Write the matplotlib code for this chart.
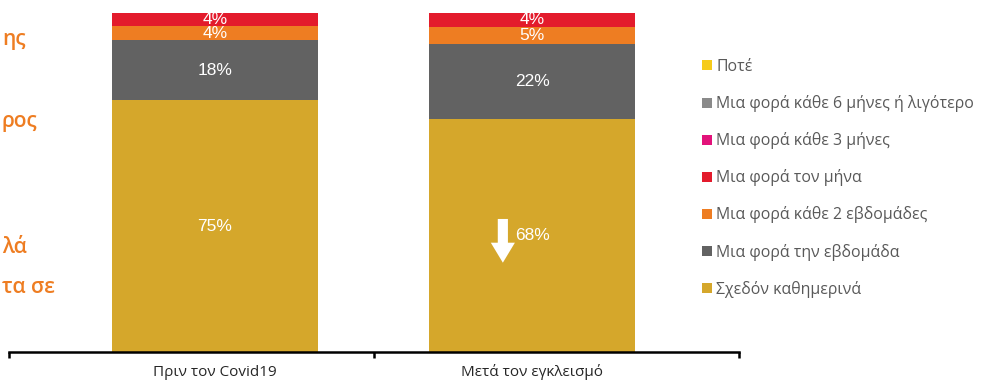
import numpy as np
import matplotlib.pyplot as plt
from matplotlib.patches import Patch

plt.rcParams['font.family'] = ['Open Sans', 'DejaVu Sans']

# categories and survey answers (percent)
categories = ['Πριν τον Covid19', 'Μετά τον εγκλεισμό']
series = ['Σχεδόν καθημερινά', 'Μια φορά την εβδομάδα', 'Μια φορά κάθε 2 εβδομάδες',
          'Μια φορά τον μήνα', 'Μια φορά κάθε 3 μήνες',
          'Μια φορά κάθε 6 μήνες ή λιγότερο', 'Ποτέ']
daily = [75, 68]
weekly = [18, 22]
biweekly = [4, 5]
monthly = [4, 4]
quarterly = [0, 0]
half_year = [0, 0]
never = [0, 0]
colors = ['#D5A72B', '#626262', '#EE7D22', '#E31B2C', '#E2127A', '#8A8A8A', '#F6CB1A']

# text fragments on the left
side_text = ['ης', 'ρος', 'λά', 'τα σε']
side_y = [45, 127, 253, 293]  # baselines, px from top

values = np.array([daily, weekly, biweekly, monthly, quarterly, half_year, never], dtype=float)
shares = values / values.sum(axis=0) * 100  # 100% stacked

fig = plt.figure(figsize=(9.81, 3.84), dpi=100)
ax = fig.add_axes([9/981, 32/384, 730/981, 339/384])

x = np.arange(len(categories))
bottom = np.zeros(len(categories))
handles = []
for vals, share, name, col in zip(values, shares, series, colors):
    ax.bar(x, share, 0.65, bottom=bottom, color=col, linewidth=0)
    handles.append(Patch(facecolor=col, label=name))
    for i in range(len(x)):
        if vals[i] > 0:
            ax.text(x[i], bottom[i] + share[i] / 2, f'{vals[i]:.0f}%', ha='center', va='center',
                    color='white', fontsize=12.5, family='Liberation Sans')
    bottom += share

# down arrow next to the 68% label
ay = shares[0][1] / 2
ax.arrow(0.908, ay + 4.9, 0, -12.9, width=0.032, head_width=0.076, head_length=5.9,
         length_includes_head=True, color='white', linewidth=0)

xl, xr = -0.65, 1.653
ax.set_xlim(xl, xr)
ax.set_ylim(0, 100)
for s in ['top', 'left', 'right']:
    ax.spines[s].set_visible(False)
ax.spines['bottom'].set_linewidth(1.8)
ax.set_yticks([])
ax.set_xticks(x, categories)
ax.tick_params(axis='x', which='major', length=0, pad=9, labelsize=11, labelcolor='#262626')
ax.set_xticks([xl, 0.5, xr], minor=True)
ax.tick_params(axis='x', which='minor', length=4.5, width=1.8, direction='out', color='black')

fig.legend(handles=handles[::-1], loc='upper left', bbox_to_anchor=(702/981, 1 - 59/384),
           frameon=False, fontsize=11.4, labelcolor='#595959', handlelength=0.6,
           handleheight=0.6, handletextpad=0.3, labelspacing=1.27, borderpad=0,
           borderaxespad=0)

for t, yp in zip(side_text, side_y):
    fig.text(0.002, 1 - yp/384, t, color='#EE7D22', fontsize=15, fontweight='semibold',
             ha='left', va='baseline')

fig.savefig('out.png', dpi=100)
